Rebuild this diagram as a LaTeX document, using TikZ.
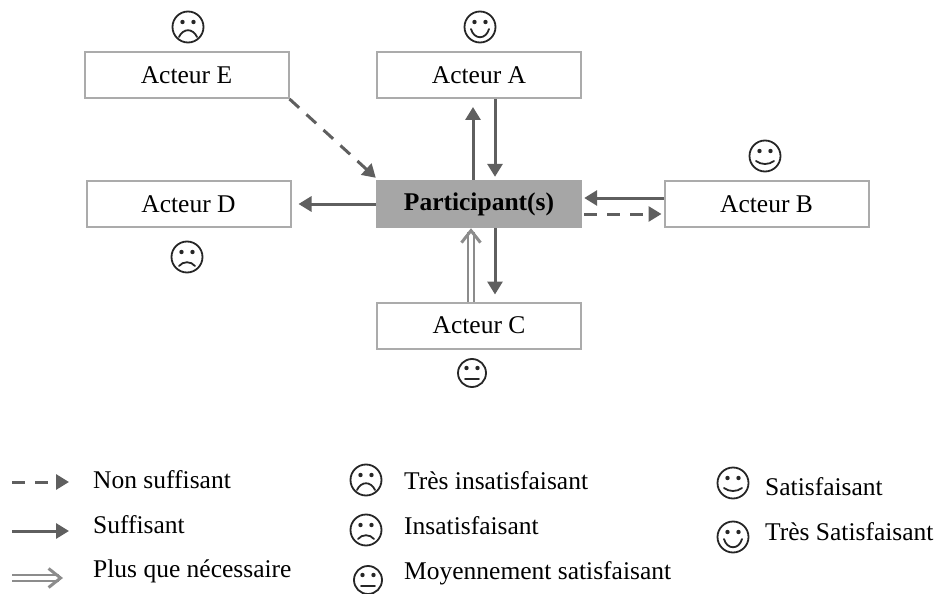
\documentclass[tikz,border=0pt]{standalone}
\usepackage{fontspec}
\setmainfont{Liberation Serif}
\usetikzlibrary{arrows.meta}
\definecolor{flowgray}{HTML}{5F5F5F}
\definecolor{edgegray}{HTML}{ABABAB}
\definecolor{fillgray}{HTML}{A6A6A6}
\definecolor{extragray}{HTML}{8C8C8C}
\tikzset{
  box/.style       = { rectangle, inner sep=0pt, minimum width=204pt, minimum height=46pt },
  actor/.style     = { box, draw=edgegray, line width=2pt, fill=white },
  participant/.style = { box, minimum width=206pt, minimum height=48pt, fill=fillgray, font=\fontsize{25.5}{28}\selectfont\bfseries },
  legend/.style    = { anchor=west, inner sep=0pt },
}
\tikzset{
  enough/.style    = { line width=3pt, draw=flowgray, -{Triangle[length=13pt,width=15pt,fill=flowgray]} },
  lacking/.style   = { enough, dash pattern=on 13pt off 10pt },
  surplus/.style   = { double=white, double distance=4.5pt, line width=2pt, draw=extragray,
                       -{Straight Barb[length=12pt,width=19pt,line width=3pt]} },
  disc/.style      = { circle, draw=black!85, line width=1.8pt, inner sep=0pt, minimum size=31pt },
  smalldisc/.style = { disc/.append style={minimum size=28pt} },
  pics/mood/.style = { code = {
    \node (-disc) [disc] {};
    \fill [black!85] (-5.5,-5) circle (2.2pt) (5.5,-5) circle (2.2pt);
    \draw [black!85,line width=1.8pt,line cap=round] #1;
  }},
}
\newcommand{\Ecurve}{(-9,10) .. controls (-5,1) and (5,1) .. (9,10)}
\newcommand{\Dcurve}{(-8,9) .. controls (-4,4) and (4,4) .. (8,9)}
\newcommand{\Ccurve}{(-7,6) -- (7,6)}
\newcommand{\Bcurve}{(-9,5) .. controls (-4,9) and (4,9) .. (9,5)}
\newcommand{\Acurve}{(-9,2) .. controls (-6,13) and (6,13) .. (9,2)}
\begin{document}
\begin{tikzpicture}[x=1pt,y=-1pt,font=\fontsize{25.5}{28}\selectfont,>=stealth]
  \useasboundingbox (0,0) rectangle (938,594);

  % actors
  \node (part) [participant] at (479,204)   {Participant(s)};
  \node (acta) [actor]       at (479,75)    {Acteur A};
  \node (actb) [actor]       at (766.5,204) {Acteur B};
  \node (actc) [actor]       at (479,325.5) {Acteur C};
  \node (actd) [actor]       at (188.5,204) {Acteur D};
  \node (acte) [actor]       at (186.5,75)  {Acteur E};

  % exchanges
  \draw [enough]  ([xshift=-6pt]part.north)  -- ([xshift=-6pt,yshift=-8pt]acta.south);
  \draw [enough]  ([xshift=16pt]acta.south)  -- ([xshift=16pt,yshift=3pt]part.north);
  \draw [enough]  ([yshift=6pt]actb.west)    -- ([xshift=2pt,yshift=6pt]part.east);
  \draw [lacking] ([xshift=2pt,yshift=-10pt]part.east) -- ([xshift=-2pt,yshift=-10pt]actb.west);
  \draw [enough]  ([xshift=16pt]part.south)  -- ([xshift=16pt,yshift=7pt]actc.north);
  \draw [surplus] ([xshift=-8pt]actc.north)  -- ([xshift=-8pt]part.south);
  \draw [enough]  (part.west)                -- ([xshift=7pt]actd.east);
  \draw [lacking] (acte.south east)          -- ([yshift=2pt]part.north west);

  % moods
  \pic (moode) at (188,27)  {mood={\Ecurve}};
  \pic (mooda) at (480,27)  {mood={\Acurve}};
  \pic (moodb) at (765,156) {mood={\Bcurve}};
  \pic [smalldisc] (moodc) at (472,373) {mood={\Ccurve}};
  \pic (moodd) at (187,257) {mood={\Dcurve}};

  % legend
  \coordinate (lackfrom) at (12,482);
  \coordinate (lackto)   at (69,482);
  \coordinate (enoufrom) at (12,531);
  \coordinate (enouto)   at (69,531);
  \coordinate (surpfrom) at (12,578);
  \coordinate (surpto)   at (63,578);
  \draw [lacking] (lackfrom) -- (lackto);
  \draw [enough]  (enoufrom) -- (enouto);
  \draw [surplus] (surpfrom) -- (surpto);
  \node (leglack) [legend] at (93,480)  {Non suffisant};
  \node (legenou) [legend] at (93,525)  {Suffisant};
  \node (legsurp) [legend] at (93,571)  {Plus que nécessaire};

  \pic (legvsad) at (366,480) {mood={\Ecurve}};
  \pic (legsad)  at (366,530) {mood={\Dcurve}};
  \pic [smalldisc] (legneut) at (368,580) {mood={\Ccurve}};
  \node (legtvsad) [legend] at (404,481) {Très insatisfaisant};
  \node (legtsad)  [legend] at (404,526) {Insatisfaisant};
  \node (legtneut) [legend] at (404,573) {Moyennement satisfaisant};

  \pic (legsat)  at (733,483) {mood={\Bcurve}};
  \pic (legvsat) at (733,537) {mood={\Acurve}};
  \node (legtsat)  [legend] at (765,487) {Satisfaisant};
  \node (legtvsat) [legend] at (765,532) {Très Satisfaisant};
\end{tikzpicture}
\end{document}
